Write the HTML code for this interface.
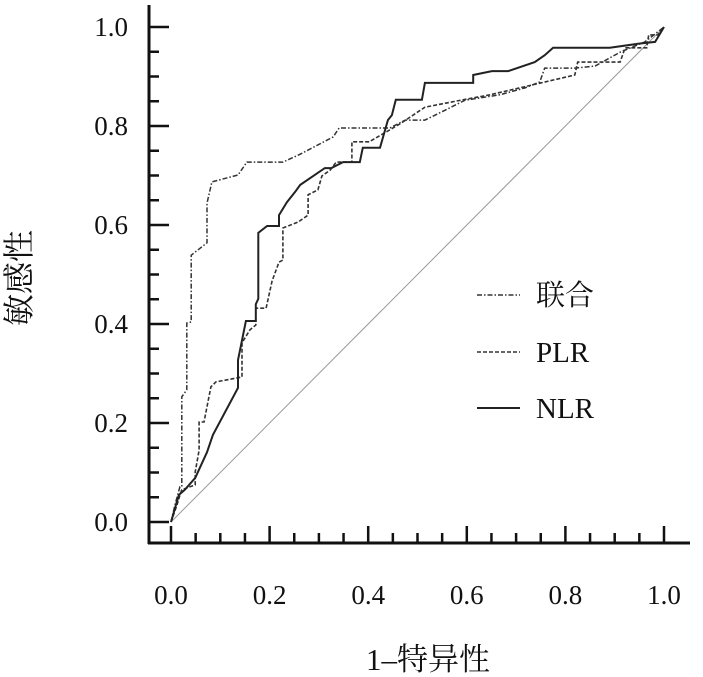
<!DOCTYPE html>
<html><head><meta charset="utf-8"><style>
html,body{margin:0;padding:0;background:#fff;}
svg{display:block;}
text{font-family:"Liberation Serif","Noto Serif CJK SC",serif;fill:#111;}
</style></head><body>
<svg id="chart" width="703" height="677" viewBox="0 0 703 677">
<g id="axes"></g>
<g id="series"></g>
<g id="legend">
<line x1="477" y1="295" x2="520" y2="295" stroke="#333" stroke-width="1.5" stroke-dasharray="5,2,1.5,2"/>
<text x="536" y="305" font-size="29">联合</text>
<line x1="477" y1="352" x2="520" y2="352" stroke="#333" stroke-width="1.5" stroke-dasharray="4,2"/>
<text x="536" y="362" font-size="29">PLR</text>
<line x1="477" y1="408" x2="520" y2="408" stroke="#222" stroke-width="2"/>
<text x="536" y="418" font-size="29">NLR</text>
</g>
<text x="30" y="278" font-size="32" text-anchor="middle" transform="rotate(-90 30 278)">敏感性</text>
<text x="428" y="670" font-size="31" text-anchor="middle">1–特异性</text>
</svg>
<script>
const xTickLabels=["0.0","0.2","0.4","0.6","0.8","1.0"];
const yTickLabels=["0.0","0.2","0.4","0.6","0.8","1.0"];
const tickValues=[0,0.2,0.4,0.6,0.8,1.0];
const combinedX=[0,0.008,0.018,0.022,0.022,0.032,0.032,0.041,0.041,0.073,0.073,0.083,0.136,0.154,0.227,0.262,0.329,0.341,0.444,0.475,0.515,0.556,0.596,0.667,0.718,0.748,0.758,0.819,0.860,0.911,0.961,1];
const combinedY=[0,0.034,0.071,0.071,0.253,0.267,0.402,0.404,0.539,0.564,0.644,0.687,0.701,0.727,0.727,0.743,0.778,0.796,0.796,0.812,0.812,0.832,0.852,0.863,0.877,0.889,0.917,0.917,0.921,0.949,0.970,1];
const nlrX=[0,0.016,0.028,0.049,0.073,0.085,0.136,0.136,0.152,0.172,0.172,0.177,0.177,0.195,0.219,0.219,0.235,0.252,0.262,0.312,0.325,0.349,0.383,0.389,0.424,0.440,0.448,0.456,0.509,0.515,0.613,0.613,0.651,0.684,0.738,0.758,0.775,0.890,0.947,0.982,1];
const nlrY=[0,0.055,0.065,0.089,0.141,0.176,0.271,0.327,0.406,0.406,0.440,0.451,0.584,0.598,0.598,0.620,0.646,0.667,0.681,0.715,0.715,0.727,0.727,0.756,0.756,0.812,0.822,0.853,0.853,0.887,0.887,0.903,0.911,0.911,0.929,0.943,0.958,0.958,0.966,0.970,1];
const plrX=[0,0.012,0.018,0.022,0.049,0.049,0.057,0.057,0.067,0.081,0.091,0.144,0.144,0.160,0.172,0.172,0.193,0.205,0.219,0.227,0.227,0.258,0.278,0.278,0.298,0.306,0.323,0.335,0.367,0.367,0.402,0.464,0.515,0.592,0.647,0.819,0.825,0.911,0.921,0.965,0.969,0.988,1];
const plrY=[0,0.034,0.054,0.065,0.075,0.101,0.145,0.202,0.202,0.273,0.283,0.293,0.362,0.388,0.398,0.432,0.432,0.487,0.525,0.529,0.594,0.606,0.620,0.661,0.671,0.699,0.711,0.727,0.727,0.768,0.768,0.804,0.838,0.853,0.863,0.903,0.929,0.929,0.958,0.958,0.984,0.984,1];
const NS="http://www.w3.org/2000/svg";
const X0=171,XW=493,Y0=522,YH=495;
function sx(v){return X0+v*XW;}
function sy(v){return Y0-v*YH;}
function mk(tag,attrs,parent){const e=document.createElementNS(NS,tag);for(const k in attrs)e.setAttribute(k,attrs[k]);parent.appendChild(e);return e;}
const axes=document.getElementById('axes');
let l=mk('line',{x1:149,y1:5,x2:149,y2:544,stroke:'#111','stroke-width':3},axes);


l=mk('line',{x1:148,y1:543,x2:690,y2:543,stroke:'#111','stroke-width':3},axes);


for(let i=0;i<=20;i++){
  const v=i*0.05;const major=(i%4===0);
  const t1=mk('line',{x1:149,y1:sy(v),x2:149+(major?20:10),y2:sy(v),stroke:'#111','stroke-width':2.5},axes);
  
  
  const t2=mk('line',{x1:sx(v),y1:543,x2:sx(v),y2:543-(major?17:10),stroke:'#111','stroke-width':2.5},axes);
  
  
}
tickValues.forEach((v,i)=>{
  const a=mk('text',{x:128,y:sy(v)+9,'font-size':27,'text-anchor':'end'},axes);a.textContent=yTickLabels[i];
  
  
  const b=mk('text',{x:sx(v),y:604,'font-size':27,'text-anchor':'middle'},axes);b.textContent=xTickLabels[i];
  
  
});
const ser=document.getElementById('series');
const d=mk('line',{x1:sx(0),y1:sy(0),x2:sx(1),y2:sy(1),stroke:'#999','stroke-width':1},ser);


function path(xs,ys,attrs){const p=xs.map((x,i)=>(i?'L':'M')+sx(x).toFixed(1)+','+sy(ys[i]).toFixed(1)).join('');attrs.d=p;attrs.fill='none';return mk('path',attrs,ser);}
let p=path(combinedX,combinedY,{stroke:'#333','stroke-width':1.5,'stroke-dasharray':'5,2,1.5,2'});


p=path(plrX,plrY,{stroke:'#333','stroke-width':1.6,'stroke-dasharray':'4,2'});


p=path(nlrX,nlrY,{stroke:'#222','stroke-width':2});


</script>
</body></html>
